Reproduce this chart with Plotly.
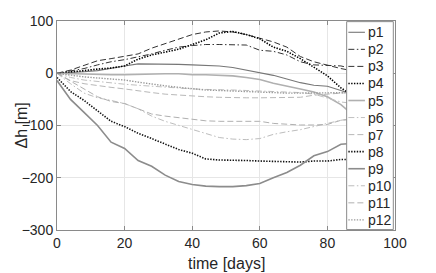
import plotly.graph_objects as go

# ---- data ----
t = [0, 4, 8, 12, 16, 20, 24, 28, 32, 36, 40, 44, 48, 52, 56, 60, 64, 68, 72, 76, 80, 84, 88]

p1 = [0, 1, 3, 5, 10, 14, 18, 18, 18, 17, 16, 15, 14, 11, 6, 2, -4, -11, -18, -23, -25, -33, -42]
p2 = [0, 4, 9, 16, 22, 26, 31, 37, 44, 50, 53, 55, 55, 55, 54, 44, 42, 35, 22, 16, 15, 14, 8]
p3 = [0, 6, 15, 24, 28, 32, 37, 48, 57, 66, 74, 79, 81, 79, 74, 67, 60, 50, 32, 22, 15, 9, 4]
p4 = [0, 2, 5, 8, 10, 14, 27, 35, 40, 46, 55, 64, 77, 80, 74, 66, 50, 42, 28, 12, -5, -28, -45]
p5 = [0, -1, -2, -2, -3, -3, -2, -2, -1, -1, -3, -3, -4, -5, -8, -12, -19, -24, -30, -36, -45, -60, -82]
p6 = [0, -8, -13, -16, -19, -21, -23, -25, -27, -28, -30, -31, -31, -32, -33, -34, -36, -37, -37, -40, -48, -55, -58]
p7 = [0, -14, -20, -24, -27, -30, -34, -37, -40, -42, -44, -45, -46, -47, -47, -47, -47, -47, -46, -42, -40, -38, -36]
p8 = [-8, -35, -52, -72, -92, -102, -115, -125, -136, -146, -153, -164, -166, -166, -167, -168, -169, -170, -170, -168, -168, -165, -165]
p9 = [-14, -50, -75, -100, -132, -144, -167, -178, -195, -207, -213, -216, -217, -217, -215, -211, -200, -190, -176, -158, -150, -136, -134]
p10 = [0, -20, -38, -47, -52, -58, -68, -82, -92, -100, -108, -116, -123, -126, -127, -125, -117, -112, -108, -102, -96, -90, -86]
p11 = [0, -15, -30, -45, -54, -58, -68, -78, -82, -85, -88, -91, -92, -92, -92, -92, -96, -98, -99, -99, -98, -90, -88]
p12 = [0, -4, -7, -9, -11, -13, -17, -21, -24, -27, -30, -32, -33, -34, -36, -37, -38, -38, -38, -38, -37, -37, -37]

names = ["p1", "p2", "p3", "p4", "p5", "p6", "p7", "p8", "p9", "p10", "p11", "p12"]
series = [p1, p2, p3, p4, p5, p6, p7, p8, p9, p10, p11, p12]

x_ticks = [0, 20, 40, 60, 80, 100]
y_ticks = [-300, -200, -100, 0, 100]
x_title = "time [days]"
y_title = "Δh [m]"

# ---- styles ----
DOT = "1.4px,1.4px"
DASH = "6px,3px"
DASHDOT = "6px,2.5px,1.5px,2.5px"
styles = [
    dict(color="#777777", width=1.1, dash="solid"),
    dict(color="#333333", width=1.0, dash=DASHDOT),
    dict(color="#333333", width=1.0, dash=DASH),
    dict(color="#000000", width=1.6, dash=DOT),
    dict(color="#b0b0b0", width=1.6, dash="solid"),
    dict(color="#c0c0c0", width=1.0, dash=DASHDOT),
    dict(color="#b8b8b8", width=1.0, dash=DASH),
    dict(color="#111111", width=1.6, dash=DOT),
    dict(color="#8c8c8c", width=1.6, dash="solid"),
    dict(color="#bdbdbd", width=1.0, dash=DASHDOT),
    dict(color="#b0b0b0", width=1.0, dash=DASH),
    dict(color="#9a9a9a", width=1.4, dash=DOT),
]

FONT = "Liberation Sans, Arial"
TXT = "#262626"

fig = go.Figure()
for name, ys, st in zip(names, series, styles):
    fig.add_trace(go.Scatter(x=t, y=ys, mode="lines", name=name, line=st,
                             showlegend=False))

# ---- custom MATLAB-like legend (inside plot, right side) ----
L_X0, L_X1, L_Y0, L_Y1 = 0.857, 0.995, 0.002, 0.997
first_y, step = 0.946, 0.0816
line_x0, line_x1, text_x = 0.862, 0.911, 0.915
shapes = [dict(type="rect", xref="paper", yref="paper", x0=L_X0, x1=L_X1, y0=L_Y0, y1=L_Y1,
               fillcolor="white", line=dict(color="#8a8a8a", width=1), layer="above")]
annotations = []
for i, (name, st) in enumerate(zip(names, styles)):
    yy = first_y - i * step
    shapes.append(dict(type="line", xref="paper", yref="paper", x0=line_x0, x1=line_x1,
                       y0=yy, y1=yy, line=st, layer="above"))
    annotations.append(dict(xref="paper", yref="paper", x=text_x, y=yy, text=name,
                            showarrow=False, xanchor="left", yanchor="middle",
                            font=dict(family=FONT, size=14, color=TXT)))

# axis titles
annotations.append(dict(xref="paper", yref="paper", x=0.5, y=-0.159, text=x_title,
                        showarrow=False, xanchor="center", yanchor="middle",
                        font=dict(family=FONT, size=16, color=TXT)))
annotations.append(dict(xref="paper", yref="paper", x=-0.1065, y=0.5, text=y_title,
                        showarrow=False, xanchor="center", yanchor="middle", textangle=-90,
                        font=dict(family=FONT, size=16, color=TXT)))

axis_common = dict(showgrid=True, gridcolor="#e6e6e6", gridwidth=1, zeroline=False,
                   showline=True, linecolor="#8a8a8a", linewidth=1, mirror="ticks",
                   ticks="inside", ticklen=4, tickcolor="#8a8a8a", automargin=False,
                   tickfont=dict(family=FONT, size=14, color=TXT))

# page body has an 8px margin; size the figure so it fits the 436x273 window
fig.update_layout(
    width=428, height=265,
    margin=dict(l=49, r=41, t=13, b=43),
    paper_bgcolor="white", plot_bgcolor="white",
    shapes=shapes, annotations=annotations,
    xaxis=dict(range=[0, 100], tickvals=x_ticks, **axis_common),
    yaxis=dict(range=[-300, 100], tickvals=y_ticks, **axis_common),
)

fig.write_html("out.html")
